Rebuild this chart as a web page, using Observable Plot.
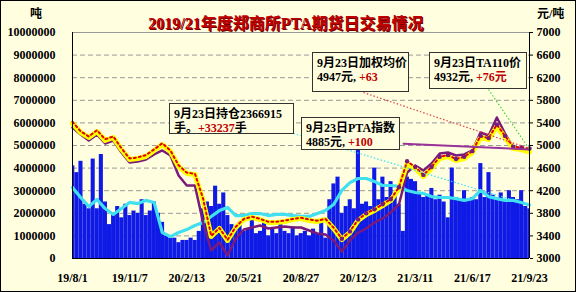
<!DOCTYPE html>
<html><head><meta charset="utf-8">
<script src="https://cdn.jsdelivr.net/npm/d3@7"></script>
<script src="https://cdn.jsdelivr.net/npm/@observablehq/plot@0.6"></script>
<style>
body{margin:0;background:#fff;}
#wrap{position:relative;width:576px;height:292px;background:#FFFFE0;overflow:hidden;font-family:"Liberation Serif","Noto Sans CJK SC",serif;}
#wrap svg{position:absolute;left:0;top:0;}
#border{position:absolute;left:0;top:0;width:576px;height:292px;box-sizing:border-box;border:1px solid #000;pointer-events:none;}
.t{position:absolute;font-weight:bold;white-space:nowrap;}
.box{position:absolute;box-sizing:border-box;border:1px solid #333;background:#FFFFE0;font-size:12px;font-weight:bold;line-height:14px;padding:3px 4px;white-space:nowrap;color:#000;}
.red{color:#C00000;}
</style></head><body>
<div id="wrap"></div>
<script>
// ---- data ----
const startDate = "2019-08-01";
const endDate = "2021-09-23";
const title = "2019/21年度郑商所PTA期货日交易情况";
const leftUnit = "吨";
const rightUnit = "元/吨";
const xTickLabels = ["2019-08-01","2019-11-07","2020-02-13","2020-05-21","2020-08-27","2020-12-03","2021-03-11","2021-06-17","2021-09-23"];
const leftTicks = [0,1000000,2000000,3000000,4000000,5000000,6000000,7000000,8000000,9000000,10000000];
const rightTicks = [3000,3400,3800,4200,4600,5000,5400,5800,6200,6600,7000];

// weekly trading volume (million)
const volumeM = [4.1,3.8,4.3,2.4,2.2,4.4,2.2,4.6,2.5,1.5,
 2.0,2.3,1.8,2.4,1.9,2.1,2.0,2.6,1.9,2.1,
 2.5,2.0,1.6,1.0,0.9,0.9,0.7,0.8,0.8,0.9,
 0.8,1.2,2.2,2.5,2.3,3.2,2.4,2.9,1.9,1.5,
 1.3,1.6,1.2,1.3,1.8,1.1,1.2,1.6,1.0,1.3,
 1.1,1.5,1.2,1.1,1.4,1.0,1.1,1.2,1.0,1.3,
 1.1,1.6,0.9,2.6,3.3,3.6,2.0,2.3,2.6,2.2,
 4.8,2.4,2.5,2.3,4.0,2.6,3.6,2.7,3.4,2.8,
 2.4,1.2,3.6,3.5,3.4,2.9,2.7,2.8,3.1,2.6,
 2.8,2.5,1.8,4.0,2.7,2.6,3.0,2.6,2.7,2.6,
 4.2,2.7,3.8,2.8,2.6,2.9,2.6,3.0,2.7,2.6,
 3.0,2.3,2.2];

// biweekly open interest (million)
const openInterestM = [3.14,2.70,2.30,2.61,2.21,1.95,2.21,2.48,2.43,2.57,
 2.48,1.15,0.97,1.15,1.28,1.46,1.59,1.86,2.12,2.26,
 1.90,1.90,1.99,1.99,1.90,1.95,1.95,1.90,1.86,1.86,
 1.99,2.12,2.39,3.01,3.36,3.54,3.54,3.41,3.23,3.23,
 3.19,3.01,2.92,2.88,2.74,2.70,2.70,2.65,2.57,2.65,
 3.01,2.74,2.65,2.57,2.57,2.48,2.366915];

// biweekly prices (yuan/ton)
const indexPrice = [5390,5230,5142,5248,5089,5142,4929,4752,4770,4805,
 4912,5018,4894,4628,4505,4487,4027,3389,3531,3319,
 3549,3690,3726,3690,3637,3637,3655,3690,3708,3673,
 3655,3690,3531,3336,3460,3673,3779,3850,3938,4027,
 4239,4681,4593,4451,4593,4770,4805,4735,4770,4876,
 5142,5106,5336,5142,4947,4929,4885];
const weightedPrice = [5420,5250,5160,5270,5110,5160,4950,4770,4790,4830,
 4930,5040,4910,4650,4520,4500,4060,3400,3540,3330,
 3560,3700,3740,3700,3650,3650,3670,3700,3720,3690,
 3670,3700,3545,3350,3480,3690,3800,3870,3960,4050,
 4260,4720,4620,4480,4620,4800,4830,4760,4800,4900,
 5170,5130,5370,5170,4980,4960,4947];
const ta110Price = [5319,5195,5089,5195,5036,5089,4876,4699,4717,4752,
 4841,4912,4823,4469,4292,4292,3637,3142,3283,3053,
 3354,3513,3549,3584,3531,3549,3566,3549,3549,3496,
 3442,3425,3319,3124,3319,3460,3531,3637,3708,3814,
 3956,4522,4646,4558,4681,4858,4876,4823,4841,4912,
 5230,5177,5496,5212,4965,4912,4932];
const trendDates = ["2021-02-19","2021-09-23"];
const trendPrice = [5030,4930];

// ---- build ----
const P = s => new Date(s + "T00:00:00Z");
const start = P(startDate), end = P(endDate);
const toVol = p => (p - 3000) / 4000 * 1e7;
const weekly = volumeM.map((v,i)=>({d:d3.utcDay.offset(start,7*i), v:v*1e6}));
const bi = i => d3.utcDay.offset(start,14*i);
const oi = openInterestM.map((v,i)=>({d:bi(i), v:v*1e6}));
const idx = indexPrice.map((p,i)=>({d:bi(i), v:toVol(p)}));
const wav = weightedPrice.map((p,i)=>({d:bi(i), v:toVol(p)}));
const ta = ta110Price.map((p,i)=>({d:bi(i), v:toVol(p)}));
const trend = trendDates.map((d,i)=>({d:P(d), v:toVol(trendPrice[i])}));

const W=576,H=292,mL=72,mR=47,mT=32,mB=34;
const xS = d3.scaleUtc([start,end],[mL,W-mR]);
const yS = d3.scaleLinear([0,1e7],[H-mB,mT]);
// leader lines: from annotation box corner (pixel) to last data point
const lastOf = a => a[a.length-1];
const leaders = [
  {x1:xS.invert(293), y1:yS.invert(133), x2:lastOf(oi).d, y2:lastOf(oi).v, c:"#40E0F0"},
  {x1:xS.invert(363), y1:yS.invert(92), x2:lastOf(wav).d, y2:lastOf(wav).v, c:"#E04040"},
  {x1:xS.invert(488), y1:yS.invert(89), x2:lastOf(ta).d, y2:lastOf(ta).v, c:"#40D040"}
];

const chart = Plot.plot({
  width:W, height:H, marginLeft:mL, marginRight:mR, marginTop:mT, marginBottom:mB,
  style:{background:"transparent", fontFamily:"Liberation Serif, Noto Sans CJK SC, serif", fontSize:"12px", fontWeight:"bold", color:"#000"},
  x:{type:"utc", domain:[start,end]},
  y:{domain:[0,1e7]},
  marks:[
    Plot.ruleY(leftTicks.slice(1,-1), {stroke:"#9a9a9a", strokeDasharray:"5,3"}),
    Plot.rectY(weekly, {x1:d=>d3.utcDay.offset(d.d,-3), x2:d=>d3.utcDay.offset(d.d,4), y:"v", fill:"#0F1AE6", clip:true}),
    Plot.line(oi, {x:"d", y:"v", stroke:"#40E0F0", strokeWidth:3.2}),
    Plot.line(ta, {x:"d", y:"v", stroke:"#7A1A7A", strokeWidth:2.5}),
    Plot.line(idx, {x:"d", y:"v", stroke:"#FFFF00", strokeWidth:5}),
    Plot.line(wav, {x:"d", y:"v", stroke:"#E00000", strokeWidth:2, strokeDasharray:"2,3"}),
    Plot.dot(wav.slice(33), {x:"d", y:"v", r:2.2, fill:"#7A1A7A"}),
    Plot.line(trend, {x:"d", y:"v", stroke:"#993399", strokeWidth:2}),
    Plot.link(leaders, {x1:"x1", y1:"y1", x2:"x2", y2:"y2", stroke:"c", strokeWidth:1.2, strokeDasharray:"1.5,2"}),
    Plot.ruleY([1e7], {stroke:"#999"}),
    Plot.ruleY([0], {stroke:"#000"}),
    Plot.ruleX([start,end], {stroke:"#000"}),
    Plot.axisY({anchor:"left", ticks:leftTicks, tickSize:0, tickPadding:17, tickFormat:d3.format("d"), label:null}),
    Plot.axisY({anchor:"right", ticks:rightTicks.map(toVol), tickSize:3, tickPadding:4, tickFormat:v=>String(Math.round(3000+v/1e7*4000)), label:null}),
    Plot.axisX({ticks:xTickLabels.map(P), tickSize:0, tickPadding:15, tickFormat:d3.utcFormat("%y/%-m/%-d"), label:null})
  ]
});
const wrap = document.getElementById("wrap");
wrap.appendChild(chart);

function addText(txt, css){const e=document.createElement("div");e.className="t";e.innerHTML=txt;Object.assign(e.style,css);wrap.appendChild(e);return e;}
addText(title,{left:"0",width:"572px",textAlign:"center",top:"15px",fontSize:"16px",lineHeight:"18px",color:"#C00000",textShadow:"1px 1px 0 #700000"});
addText(leftUnit,{left:"30px",top:"8px",fontSize:"12px",lineHeight:"13px"});
addText(rightUnit,{left:"537px",top:"8px",fontSize:"12px",lineHeight:"13px"});

const boxes = [
  {l:169,t:103,w:125,h:31,html:'9月23日持仓2366915<br>手。<span class="red">+33237</span>手'},
  {l:301,t:117,w:99,h:33,html:'9月23日PTA指数<br>4885元, <span class="red">+100</span>'},
  {l:312,t:52,w:97,h:40,html:'9月23日加权均价<br>4947元, <span class="red">+63</span>'},
  {l:429,t:52,w:98,h:37,html:'9月23日TA110价<br>4932元, <span class="red">+76元</span>'}
];
for(const b of boxes){const e=document.createElement("div");e.className="box";Object.assign(e.style,{left:b.l+"px",top:b.t+"px",width:b.w+"px",height:b.h+"px"});e.innerHTML=b.html;wrap.appendChild(e);}
const bd=document.createElement("div");bd.id="border";wrap.appendChild(bd);
</script>
</body></html>
